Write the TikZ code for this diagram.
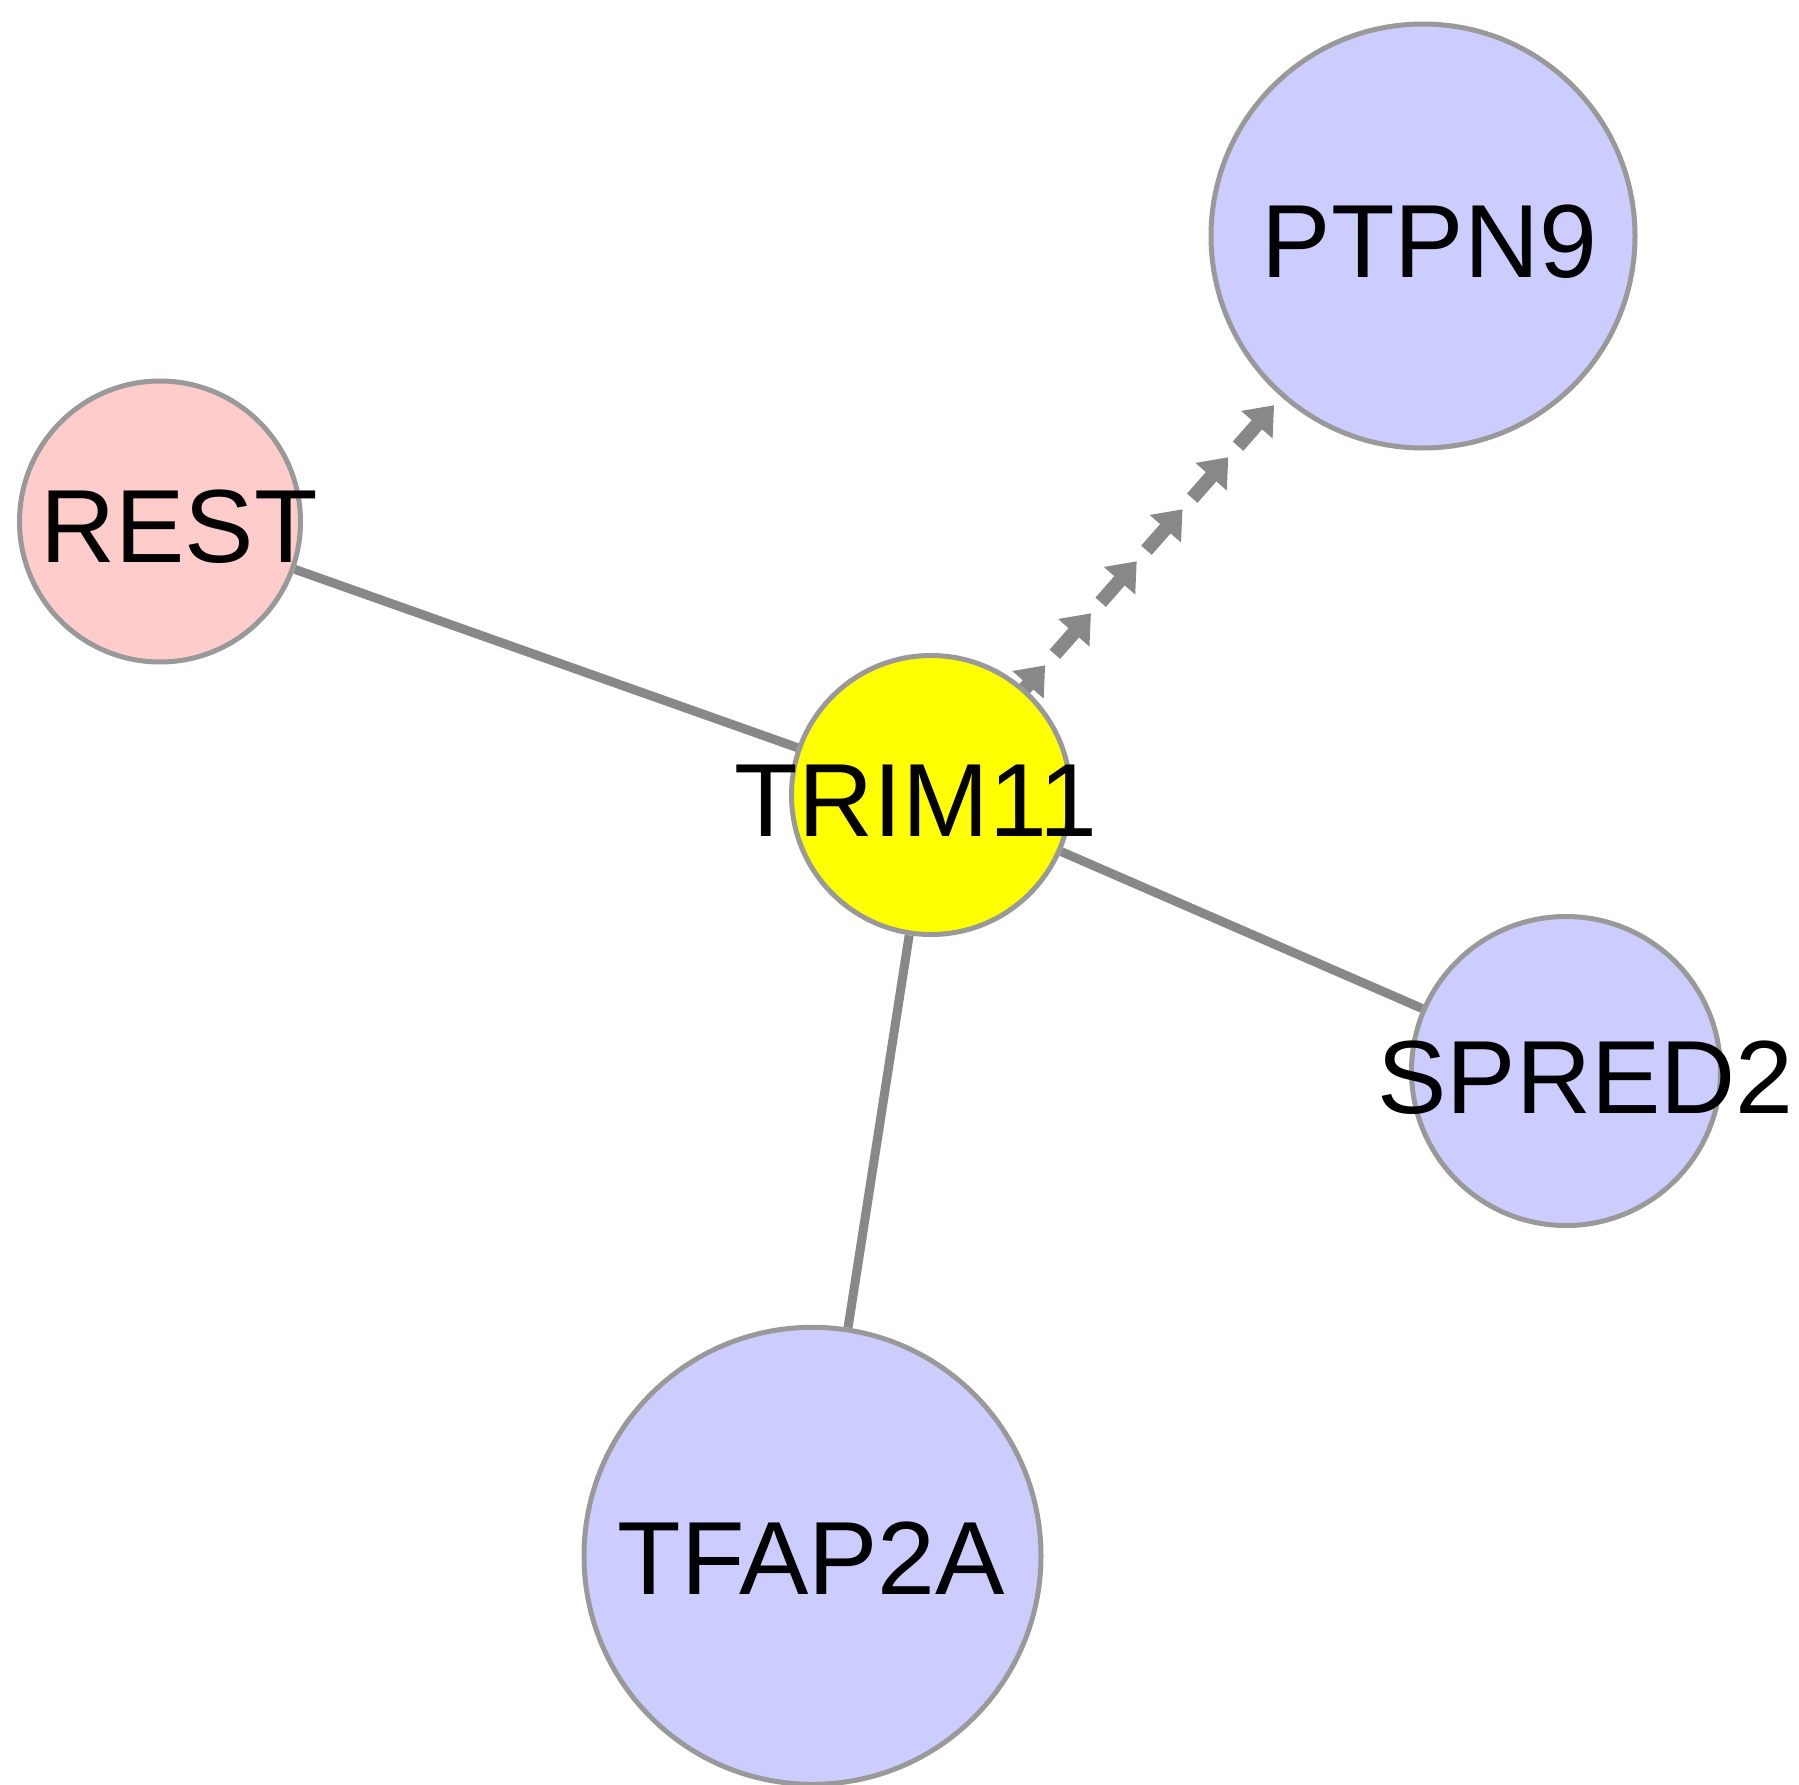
\documentclass[tikz,border=0pt]{standalone}
\usepackage{fontspec}
\setmainfont{Liberation Sans}
\usetikzlibrary{arrows.meta,calc,decorations.markings,backgrounds}
\definecolor{bordergray}{HTML}{999999}
\definecolor{edgegray}{HTML}{888888}
\definecolor{restfill}{HTML}{FFCCCC}
\definecolor{bluefill}{HTML}{CCCCFF}
\definecolor{trimfill}{HTML}{FFFF00}
\tikzset{
  gene/.style={circle, draw=bordergray, line width=5pt, inner sep=0pt},
  lbl/.style={anchor=base, inner sep=0pt, font=\fontsize{104}{110}\selectfont, text=black},
  edge/.style={draw=edgegray, line width=9pt},
  arrowdash/.style={draw=edgegray, line width=14pt, -{Triangle[length=26pt,width=40pt]}},
}
\newcommand{\dasharrow}{\draw[arrowdash] (-54.6pt,0pt) -- (0pt,0pt);}
\begin{document}
\begin{tikzpicture}[x=1pt,y=-1pt]
\useasboundingbox (0,0) rectangle (1799,1785);
% nodes
\node[gene, fill=trimfill, minimum size=279pt] (trim) at (931,795) {};
\node[gene, fill=restfill, minimum size=281pt] (rest) at (160,521.5) {};
\node[gene, fill=bluefill, minimum size=424pt] (ptpn) at (1423,236) {};
\node[gene, fill=bluefill, minimum size=309pt] (spred) at (1566,1071) {};
\node[gene, fill=bluefill, minimum size=457pt] (tfap) at (812.5,1555.8) {};
% edges
\begin{scope}[on background layer]
\draw[edge] (rest) -- (trim);
\draw[edge] (trim) -- (spred);
\draw[edge] (trim) -- (tfap);
\path[decoration={markings,
    mark=at position 30.8pt with {\dasharrow},
    mark=at position 100.1pt with {\dasharrow},
    mark=at position 169.4pt with {\dasharrow},
    mark=at position 238.7pt with {\dasharrow},
    mark=at position 308pt with {\dasharrow},
    mark=at position 377.3pt with {\dasharrow}}, decorate]
  (trim) -- (ptpn);
\end{scope}
% labels
\node[lbl] (trimL) at ($(trim.center)+(-15,41)$) {TRIM11};
\node[lbl] (restL) at ($(rest.center)+(19,41)$) {REST};
\node[lbl] (ptpnL) at ($(ptpn.center)+(6.5,41)$) {PTPN9};
\node[lbl] (spredL) at ($(spred.center)+(19.5,42)$) {SPRED2};
\node[lbl] (tfapL) at ($(tfap.center)+(-1,39)$) {TFAP2A};
\end{tikzpicture}
\end{document}
